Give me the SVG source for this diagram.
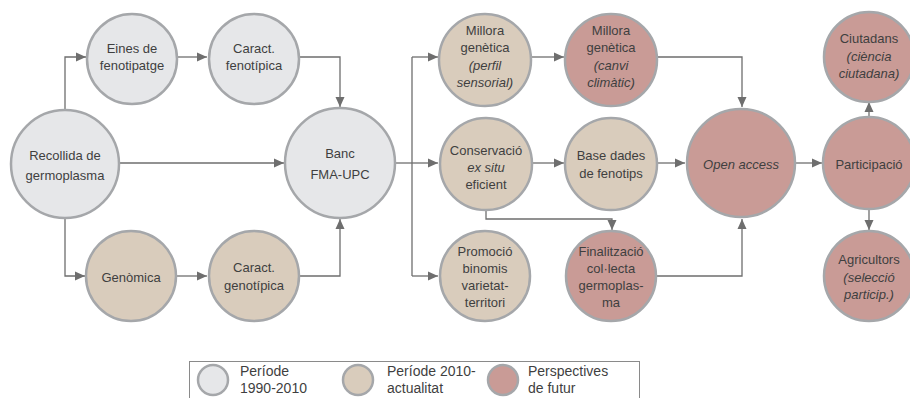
<svg xmlns="http://www.w3.org/2000/svg" width="910" height="398" viewBox="0 0 910 398">
<style>
.n circle{stroke:#A5A7AA;stroke-width:2.5}
.g{fill:#E6E7E9}.t{fill:#D9CCBC}.p{fill:#C99B96}
text{font-family:"Liberation Sans",Arial,sans-serif;font-size:13px;fill:#3F3F3F;text-anchor:middle}
.i{font-style:italic}
.c path{fill:none;stroke:#6E6E6E;stroke-width:1.3}
.lg text{text-anchor:start;font-size:14px}
</style>
<defs>
<marker id="a" viewBox="0 0 10 10" refX="10" refY="5" markerWidth="10" markerHeight="10" markerUnits="userSpaceOnUse" orient="auto">
<path d="M0,0.5 L10,5 L0,9.5 Z" fill="#6E6E6E"/>
</marker>
</defs>
<g class="c">
<path d="M65,110 V57 H86" marker-end="url(#a)"/>
<path d="M178,57 H207" marker-end="url(#a)"/>
<path d="M300,57 H340 V107" marker-end="url(#a)"/>
<path d="M120,163 H284" marker-end="url(#a)"/>
<path d="M65,218 V276 H85" marker-end="url(#a)"/>
<path d="M177,276 H207" marker-end="url(#a)"/>
<path d="M300,276 H340 V219" marker-end="url(#a)"/>
<path d="M395,163 H412"/>
<path d="M412,57 V276"/>
<path d="M412,57 H438" marker-end="url(#a)"/>
<path d="M412,163 H438" marker-end="url(#a)"/>
<path d="M412,276 H438" marker-end="url(#a)"/>
<path d="M532,57 H564" marker-end="url(#a)"/>
<path d="M532,163 H564" marker-end="url(#a)"/>
<path d="M486,209 V219 H612 V230" marker-end="url(#a)"/>
<path d="M657,57 H742 V107" marker-end="url(#a)"/>
<path d="M657,163 H685" marker-end="url(#a)"/>
<path d="M657,276 H742 V219" marker-end="url(#a)"/>
<path d="M796,163 H822" marker-end="url(#a)"/>
<path d="M869,117 V102" marker-end="url(#a)"/>
<path d="M869,209 V230" marker-end="url(#a)"/>
</g>
<g id="recollida" class="n"><circle class="g" cx="65" cy="164" r="54"/><text x="65" y="160">Recollida de</text><text x="65" y="180">germoplasma</text></g>
<g id="eines" class="n"><circle class="g" cx="132" cy="59" r="45"/><text x="132" y="53">Eines de</text><text x="132" y="70">fenotipatge</text></g>
<g id="caract-fen" class="n"><circle class="g" cx="254" cy="59" r="45"/><text x="254" y="53">Caract.</text><text x="254" y="70">fenotípica</text></g>
<g id="banc" class="n"><circle class="g" cx="340" cy="163" r="55"/><text x="340" y="158">Banc</text><text x="340" y="179">FMA-UPC</text></g>
<g id="genomica" class="n"><circle class="t" cx="131" cy="276" r="45"/><text x="131" y="282">Genòmica</text></g>
<g id="caract-gen" class="n"><circle class="t" cx="254" cy="276" r="45"/><text x="254" y="272">Caract.</text><text x="254" y="290">genotípica</text></g>
<g id="millora-perfil" class="n"><circle class="t" cx="485" cy="60" r="46"/><text x="485" y="35">Millora</text><text x="485" y="52">genètica</text><text x="485" y="70" class="i">(perfil</text><text x="485" y="87" class="i">sensorial)</text></g>
<g id="millora-canvi" class="n"><circle class="p" cx="611" cy="60" r="46"/><text x="611" y="35">Millora</text><text x="611" y="52">genètica</text><text x="611" y="70" class="i">(canvi</text><text x="611" y="87" class="i">climàtic)</text></g>
<g id="conservacio" class="n"><circle class="t" cx="486" cy="164" r="46"/><text x="486" y="155">Conservació</text><text x="486" y="172" class="i">ex situ</text><text x="486" y="189">eficient</text></g>
<g id="base-dades" class="n"><circle class="t" cx="611" cy="164" r="46"/><text x="611" y="160">Base dades</text><text x="611" y="178">de fenotips</text></g>
<g id="promocio" class="n"><circle class="t" cx="485" cy="276" r="45"/><text x="485" y="256">Promoció</text><text x="485" y="273">binomis</text><text x="485" y="290">varietat-</text><text x="485" y="307">territori</text></g>
<g id="finalitzacio" class="n"><circle class="p" cx="611" cy="276" r="45"/><text x="611" y="256">Finalització</text><text x="611" y="273">col·lecta</text><text x="611" y="290">germoplas-</text><text x="611" y="307">ma</text></g>
<g id="open-access" class="n"><circle class="p" cx="741" cy="163" r="54"/><text x="741" y="169" class="i">Open access</text></g>
<g id="participacio" class="n"><circle class="p" cx="869" cy="163" r="46"/><text x="869" y="169">Participació</text></g>
<g id="ciutadans" class="n"><circle class="p" cx="869" cy="57" r="45"/><text x="869" y="43">Ciutadans</text><text x="869" y="61" class="i">(ciència</text><text x="869" y="78" class="i">ciutadana)</text></g>
<g id="agricultors" class="n"><circle class="p" cx="869" cy="276" r="45"/><text x="869" y="264">Agricultors</text><text x="869" y="282" class="i">(selecció</text><text x="869" y="299" class="i">particip.)</text></g>
<g id="legend" class="lg">
<rect x="189.5" y="361.5" width="450" height="40" fill="none" stroke="#8A8A8A" stroke-width="1"/>
<g class="n"><circle class="g" cx="213" cy="380" r="15"/></g>
<text x="240" y="376">Període</text><text x="240" y="393">1990-2010</text>
<g class="n"><circle class="t" cx="358" cy="380" r="15"/></g>
<text x="387" y="376">Període 2010-</text><text x="387" y="393">actualitat</text>
<g class="n"><circle class="p" cx="503" cy="380" r="15"/></g>
<text x="528" y="376">Perspectives</text><text x="528" y="393">de futur</text>
</g>
</svg>
